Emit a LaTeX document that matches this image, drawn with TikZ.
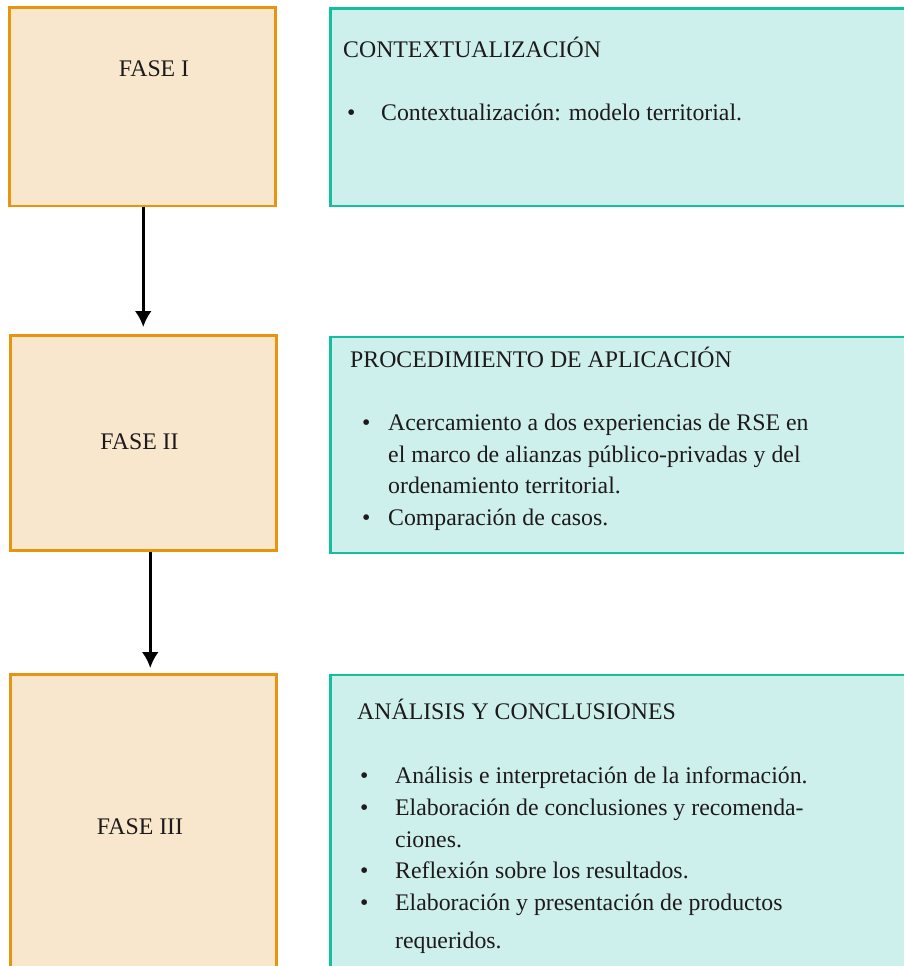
\documentclass[tikz,border=0pt]{standalone}
\usepackage{fontspec}
\setmainfont{Liberation Serif}
\usetikzlibrary{arrows.meta}
\definecolor{faseborde}{HTML}{E8940E}
\definecolor{fasefondo}{HTML}{F8E7CD}
\definecolor{tealborde}{HTML}{14BFA0}
\definecolor{tealfondo}{HTML}{CDF0EC}
\definecolor{texto}{HTML}{1E1A1B}
\tikzset{>={Latex[length=16pt,width=17pt]}}
\tikzset{
    fasebox/.style={draw=faseborde, fill=fasefondo, line width=2.5pt, anchor=north west, inner sep=0pt},
    tealbox/.style={draw=tealborde, fill=tealfondo, line width=2.5pt, anchor=north west, inner sep=0pt},
    txt/.style={text=texto, inner sep=0pt, font=\fontsize{23.8}{31.7}\selectfont},
    flecha/.style={->, line width=3pt, black}
}

\begin{document}
\begin{tikzpicture}[x=1pt, y=-1pt]
    \useasboundingbox (0,0) rectangle (904,966);
    \clip (0,0) rectangle (904,966);

    % cajas de fases
    \node[fasebox, minimum width=266pt, minimum height=198pt] (fase1) at (8,6.5) {};
    \node[fasebox, minimum width=266pt, minimum height=215pt] (fase2) at (9,334) {};
    \node[fasebox, minimum width=266pt, minimum height=400pt] (fase3) at (9,673) {};

    \node[txt, anchor=base] (f1) at (154,77) {FASE I};
    \node[txt, anchor=base] (f2) at (139.5,449) {FASE II};
    \node[txt, anchor=base] (f3) at (140,834) {FASE III};

    % cajas de contenido
    \node[tealbox, minimum width=600pt, minimum height=197pt] (ctx) at (329,7.5) {};
    \node[tealbox, minimum width=600pt, minimum height=216pt] (proc) at (329,335.5) {};
    \node[tealbox, minimum width=600pt, minimum height=400pt] (anal) at (329,673.5) {};

    \node[txt, anchor=base west] (hctx) at (343,57) {CONTEXTUALIZACIÓN};
    \node[txt, anchor=base west] (bctx) at (347,120) {•};
    \node[txt, anchor=base west] (tctx) at (381,120) {Contextualización: modelo territorial.};

    \node[txt, anchor=base west] (hproc) at (350,367) {PROCEDIMIENTO DE APLICACIÓN};
    \foreach \y in {430,525}
        \node[txt, anchor=base west] (bproc\y) at (362,\y) {•};
    \foreach \y/\t in {430/Acercamiento a dos experiencias de RSE en,
                       462/el marco de alianzas público-privadas y del,
                       493/ordenamiento territorial.,
                       525/Comparación de casos.}
        \node[txt, anchor=base west] (tproc\y) at (388,\y) {\t};

    \node[txt, anchor=base west] (hanal) at (357,719) {ANÁLISIS Y CONCLUSIONES};
    \foreach \y in {783,815,878,910}
        \node[txt, anchor=base west] (banal\y) at (360,\y) {•};
    \foreach \y/\t in {783/Análisis e interpretación de la información.,
                       815/Elaboración de conclusiones y recomenda-,
                       847/ciones.,
                       878/Reflexión sobre los resultados.,
                       910/Elaboración y presentación de productos,
                       948/requeridos.}
        \node[txt, anchor=base west] (tanal\y) at (395,\y) {\t};

    % flechas
    \draw[flecha, shorten >=7pt] ([xshift=1pt]fase1.south) -- ([xshift=1pt]fase1.south |- fase2.north);
    \draw[flecha, shorten >=5pt] ([xshift=7pt]fase2.south) -- ([xshift=7pt]fase2.south |- fase3.north);

\end{tikzpicture}
\end{document}
